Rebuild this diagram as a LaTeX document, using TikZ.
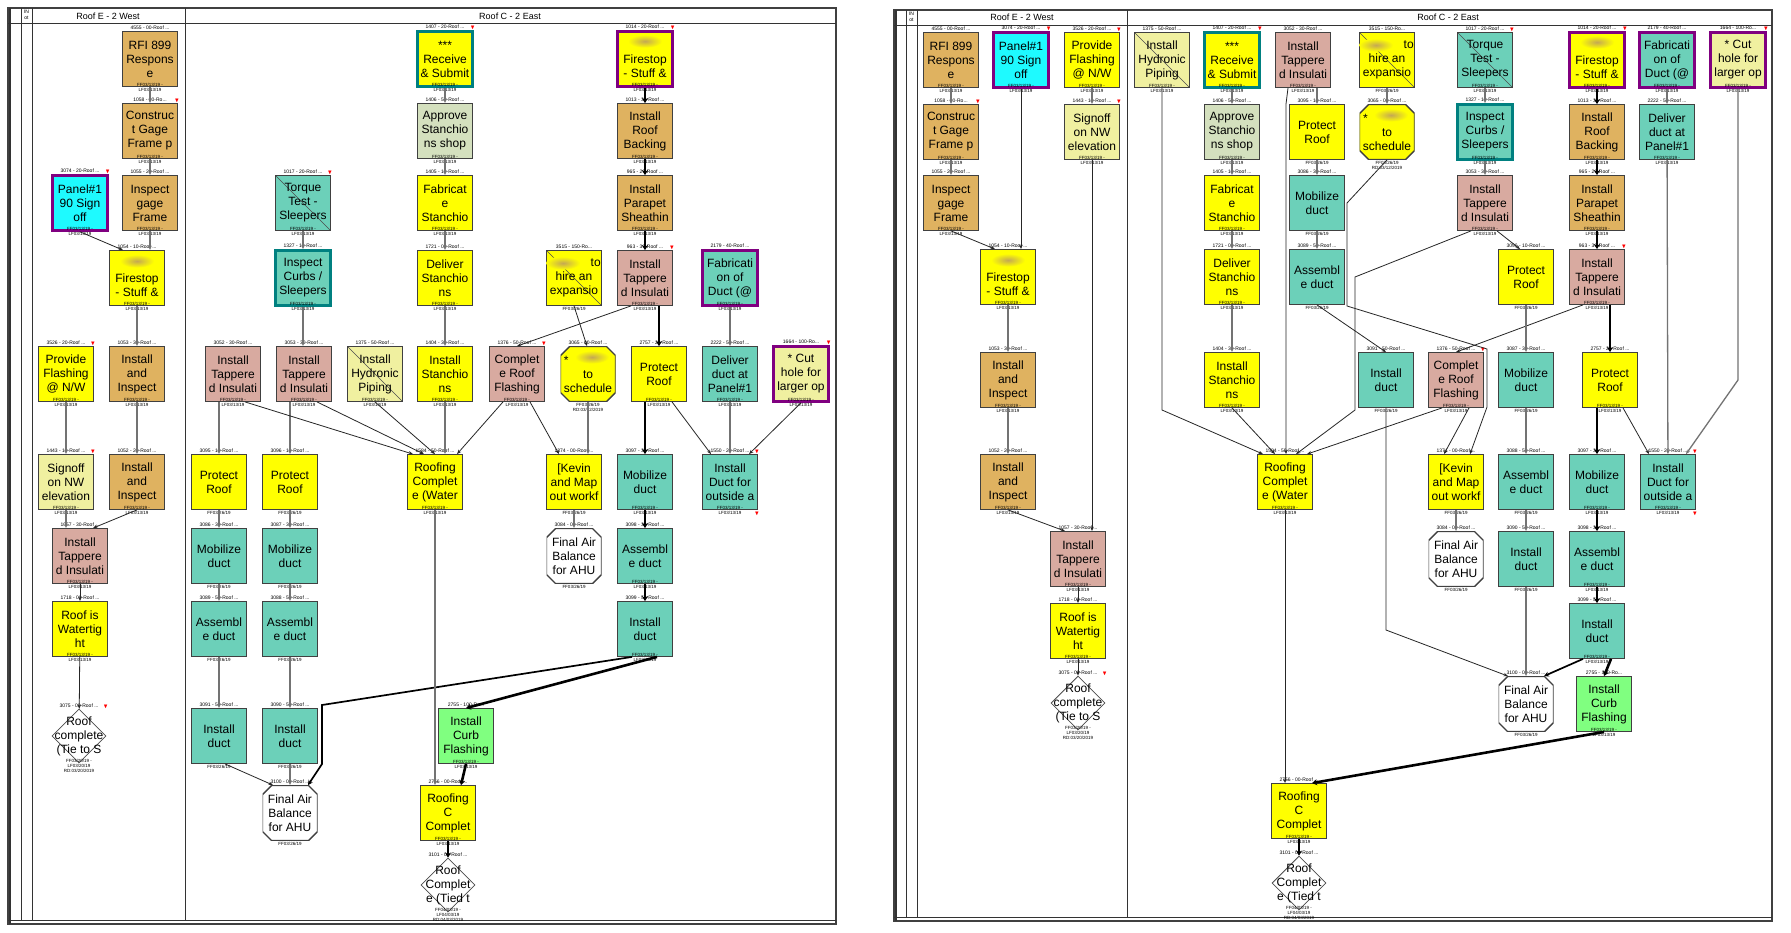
\documentclass[tikz,border=0pt]{standalone}
\usepackage{amssymb}
\usepackage{fontspec}
\setmainfont{Liberation Sans}
\usepackage{tikz}
\usetikzlibrary{shapes.geometric,arrows.meta}
\definecolor{tanc}{RGB}{223,178,96}
\definecolor{yelc}{RGB}{255,255,0}
\definecolor{aquac}{RGB}{108,208,185}
\definecolor{rosec}{RGB}{216,170,160}
\definecolor{palec}{RGB}{240,240,160}
\definecolor{sagec}{RGB}{212,224,190}
\definecolor{limec}{RGB}{128,255,128}
\definecolor{cyanc}{RGB}{30,250,255}
\definecolor{purc}{RGB}{128,0,128}
\definecolor{ringc}{RGB}{0,128,128}
\definecolor{smudc}{RGB}{196,168,84}
\tikzset{
 task/.style={rectangle,draw=black!75,line width=0.8pt,minimum width=55pt,
   minimum height=55pt,inner sep=0pt,align=center,font=\fontsize{12}{14}\selectfont},
 tanbox/.style={task,fill=tanc},
 yelbox/.style={task,fill=yelc},
 aquabox/.style={task,fill=aquac},
 rosebox/.style={task,fill=rosec},
 palebox/.style={task,fill=palec},
 sagebox/.style={task,fill=sagec},
 limebox/.style={task,fill=limec},
 cyanbox/.style={task,fill=cyanc},
 hilite/.style={draw=purc,line width=2.6pt},
 ringed/.style={draw=ringc,line width=2.6pt},
 done/.style={path picture={\draw[black!70,line width=0.6pt]
   (path picture bounding box.north west) -- (path picture bounding box.south east);}},
 octfill/.style={path picture={\filldraw[fill=#1,draw=black!75,line width=1.4pt]
   ([xshift=9pt]path picture bounding box.north west)
   -- ([xshift=-9pt]path picture bounding box.north east)
   -- ([yshift=-9pt]path picture bounding box.north east)
   -- ([yshift=9pt]path picture bounding box.south east)
   -- ([xshift=-9pt]path picture bounding box.south east)
   -- ([xshift=9pt]path picture bounding box.south west)
   -- ([yshift=9pt]path picture bounding box.south west)
   -- ([yshift=-9pt]path picture bounding box.north west) -- cycle;}},
 oct/.style={task,draw=none,fill=none,octfill=white},
 dia/.style={diamond,draw=black!70,line width=0.8pt,fill=white,minimum size=54pt,
   inner sep=0pt,aspect=1},
 dtxt/.style={label={[font=\fontsize{12}{14}\selectfont,align=center,inner sep=0pt]center:{#1}}},
 head/.style={font=\fontsize{5}{5}\selectfont,inner sep=1pt},
 foot/.style={font=\fontsize{4.5}{5}\selectfont,align=center,inner sep=0pt,anchor=center},
 hd/.style={label={[head]above:{#1}}},
 ft/.style={label={[foot]south:{#1}}},
 ft/.default={FF03/13/19 -\\LF03/13/19},
 ft1/.style={label={[foot,anchor=north,yshift=-1pt]south:{#1}}},
 ft1/.default={FF03/26/19},
 ft3/.style={label={[foot,anchor=north,yshift=4pt]south:{#1}}},
 flagtip/.style={text=red,font=\fontsize{6}{6}\selectfont,inner sep=0pt,anchor=center,
   xshift=-1pt,yshift=2pt},
 flag/.style={label={[flagtip]north east:$\blacktriangledown$}},
 flagb/.style={label={[flagtip,yshift=-6pt]south east:$\blacktriangledown$}},
 dflag/.style={label={[flagtip,xshift=14pt,yshift=14pt]north east:$\blacktriangledown$}},
 link/.style={->,draw=black!55,line width=1.3pt},
 fine/.style={->,draw=black!85,line width=0.8pt},
 semi/.style={-{Stealth[length=5pt,width=5pt]},draw=black,line width=1.7pt},
 crit/.style={-{Stealth[length=5pt,width=6pt]},draw=black,line width=2.6pt},
 frame/.style={draw=black!75,line width=2pt},
 rule/.style={draw=black!80,line width=0.9pt},
 lanehead/.style={font=\fontsize{9}{9}\selectfont,inner sep=0pt}}
\newcommand\smudge[1]{\shade[inner color=smudc,outer color=yelc] (#1) ellipse (17 and 6.5);}

\begin{document}
\begin{tikzpicture}[x=1pt,y=-1pt,>={Stealth[length=4.5pt,width=3.5pt]}]
\fill[white] (0,0) rectangle (1791,932);
\useasboundingbox (0,0) rectangle (1791,932);
% left sheet
\draw[frame] (8,8) rectangle (836,924);
\draw[rule] (8,920) -- (836,920) (21,8) -- (21,920) (32,8) -- (32,920)
  (185,8) -- (185,920) (8,23) -- (836,23);
\draw[black!80,line width=2.5pt] (10,8) -- (10,924);
\node[font=\fontsize{5}{5.5}\selectfont,align=center,inner sep=0pt] (Lin) at (26.5,15) {IN\\ot};
\node[lanehead] (Lwest) at (108,16) {Roof E - 2 West};
\node[lanehead] (Least) at (510,16) {Roof C - 2 East};

\node[tanbox,hd={4555 - 00-Roof ...},ft] (Lrfi) at (150,59) {RFI 899\\Respons\\e};
\node[tanbox,hd={1058 - 20-Ro...},ft,flag] (Lgage) at (150,131) {Construc\\t Gage\\Frame p};
\node[tanbox,hd={1055 - 20-Roof ...},ft] (Linsp) at (150,203) {Inspect\\gage\\Frame};
\node[cyanbox,hilite,hd={3074 - 20-Roof ...},ft,flag] (Lpanel) at (80,203) {Panel\#1\\90 Sign\\off};
\node[yelbox,hd={1054 - 10-Roof ...},ft] (Lfire) at (137,278) {\phantom{X}\\Firestop\\- Stuff \&};
\node[aquabox,done,hd={1017 - 20-Roof ...},ft,flag] (Ltorq) at (303,203) {Torque\\Test -\\Sleepers};
\node[aquabox,ringed,hd={1327 - 10-Roof ...},ft] (Lcurb) at (303,278) {Inspect\\Curbs /\\Sleepers};
\node[yelbox,ringed,hd={1407 - 20-Roof ...},ft,flag] (Lrecv) at (445,59) {***\\Receive\\\& Submit};
\node[sagebox,hd={1406 - 50-Roof ...},ft] (Lappr) at (445,131) {Approve\\Stanchio\\ns shop};
\node[yelbox,hd={1405 - 10-Roof ...},ft] (Lfab) at (445,203) {Fabricat\\e\\Stanchio};
\node[yelbox,hd={1721 - 00-Roof ...},ft] (Ldlv) at (445,278) {Deliver\\Stanchio\\ns};
\node[yelbox,hilite,hd={1014 - 20-Roof ...},ft,flag] (Lcfr) at (645,59) {\phantom{X}\\Firestop\\- Stuff \&};
\node[tanbox,hd={1013 - 30-Roof ...},ft] (Lback) at (645,131) {Install\\Roof\\Backing};
\node[tanbox,hd={965 - 20-Roof ...},ft] (Lpara) at (645,203) {Install\\Parapet\\Sheathin};
\node[rosebox,hd={963 - 30-Roof ...},ft,flag] (Ltap) at (645,278) {Install\\Tappere\\d Insulati};
\node[yelbox,done,hd={3515 - 150-Ro...},ft1] (Lhire) at (574,278) {\phantom{XXXXX} to\\hire an\\expansio};
\node[aquabox,hilite,hd={2179 - 40-Roof ...},ft] (Lfdu) at (730,278) {Fabricati\\on of\\Duct (@};

\node[yelbox,hd={3526 - 20-Roof ...},ft,flag] (Lprov) at (66,374) {Provide\\Flashing\\@ N/W};
\node[tanbox,hd={1053 - 30-Roof ...},ft] (Lii1) at (137,374) {Install\\and\\Inspect};
\node[rosebox,hd={3052 - 30-Roof ...},ft] (Ltap1) at (233,374) {Install\\Tappere\\d Insulati};
\node[rosebox,hd={3053 - 30-Roof ...},ft] (Ltap2) at (304,374) {Install\\Tappere\\d Insulati};
\node[palebox,done,hd={1375 - 50-Roof ...},ft] (Lhyd) at (375,374) {Install\\Hydronic\\Piping};
\node[yelbox,hd={1404 - 30-Roof ...},ft] (Lstan) at (445,374) {Install\\Stanchio\\ns};
\node[rosebox,hd={1376 - 50-Roof ...},ft,flag] (Lcrf) at (517,374) {Complet\\e Roof\\Flashing};
\node[oct,octfill=yelc,hd={3065 - 00-Roof ...},ft1={FF03/26/19\\RD:03/12/2019}] (Lsch) at (588,374) {* \phantom{XXXXX}\\to\\schedule};
\node[yelbox,hd={2757 - 20-Roof ...},ft] (Lprot) at (659,374) {Protect\\Roof};
\node[aquabox,hd={2222 - 50-Roof ...},ft] (Lddp) at (730,374) {Deliver\\duct at\\Panel\#1};
\node[palebox,hilite,hd={1664 - 100-Ro...},ft,flag] (Lcut) at (801,374) {* Cut\\hole for\\larger op};

\node[palebox,hd={1443 - 10-Roof ...},ft,flag] (Lsign) at (66,482) {Signoff\\on NW\\elevation};
\node[tanbox,hd={1052 - 20-Roof ...},ft] (Lii2) at (137,482) {Install\\and\\Inspect};
\node[yelbox,hd={3095 - 10-Roof ...},ft1] (Lpr1) at (219,482) {Protect\\Roof};
\node[yelbox,hd={3096 - 10-Roof ...},ft1] (Lpr2) at (290,482) {Protect\\Roof};
\node[yelbox,hd={1584 - 50-Roof ...},ft] (Lrcw) at (435,482) {Roofing\\Complet\\e (Water};
\node[yelbox,hd={1374 - 00-Roof ...},ft1] (Lkev) at (574,482) {[Kevin\\and Map\\out workf};
\node[aquabox,hd={3097 - 30-Roof ...},ft] (Lmob) at (645,482) {Mobilize\\duct};
\node[aquabox,hd={1550 - 20-Roof ...},ft,flag,flagb] (Lido) at (730,482) {Install\\Duct for\\outside a};

\node[rosebox,hd={1057 - 30-Roof ...},ft] (Ltapw) at (80,556) {Install\\Tappere\\d Insulati};
\node[aquabox,hd={3086 - 30-Roof ...},ft1] (Lmb1) at (219,556) {Mobilize\\duct};
\node[aquabox,hd={3087 - 30-Roof ...},ft1] (Lmb2) at (290,556) {Mobilize\\duct};
\node[oct,hd={3084 - 00-Roof ...},ft1] (Lfab1) at (574,556) {Final Air\\Balance\\for AHU};
\node[aquabox,hd={3098 - 30-Roof ...},ft] (Lasm) at (645,556) {Assembl\\e duct};

\node[yelbox,hd={1718 - 00-Roof ...},ft] (Lwat) at (80,629) {Roof is\\Watertig\\ht};
\node[aquabox,hd={3089 - 50-Roof ...},ft1] (Las1) at (219,629) {Assembl\\e duct};
\node[aquabox,hd={3088 - 50-Roof ...},ft1] (Las2) at (290,629) {Assembl\\e duct};
\node[aquabox,hd={3099 - 50-Roof ...},ft] (Lidu) at (645,629) {Install\\duct};

\node[dia,dtxt={Roof\\complete\\(Tie to S},hd={3075 - 00-Roof ...},
  ft3={FF03/20/19 -\\LF03/20/19\\RD:03/20/2019},dflag] (Ldia) at (79,736) {};
\node[aquabox,hd={3091 - 50-Roof ...},ft1] (Lid1) at (219,736) {Install\\duct};
\node[aquabox,hd={3090 - 50-Roof ...},ft1] (Lid2) at (290,736) {Install\\duct};
\node[limebox,hd={2755 - 100-Ro...},ft] (Lcrb) at (466,736) {Install\\Curb\\Flashing};
\node[oct,hd={3100 - 00-Roof ...},ft1] (Lfab2) at (290,813) {Final Air\\Balance\\for AHU};
\node[yelbox,hd={2756 - 00-Roof ...},ft] (Lrcc) at (448,813) {Roofing\\C\\Complet};
\node[dia,dtxt={Roof\\Complet\\e (Tied t},hd={3101 - 00-Roof ...},
  ft3={FF04/03/19 -\\LF04/03/19\\RD:04/03/2019}] (Ldia2) at (448,885) {};

\smudge{[yshift=-11pt]Lfire.north}
\smudge{[yshift=-11pt]Lcfr.north}
\smudge{[xshift=-11pt,yshift=-13pt]Lhire.north}
\smudge{[xshift=4pt,yshift=-11pt]Lsch.north}

\path (Lrfi) edge[link] (Lgage) (Lgage) edge[link] (Linsp);
\draw[link] (Linsp.south) -- (Linsp.south |- Lfire.north);
\draw[fine] (Lpanel.south) -- ([xshift=-14pt]Lfire.north);
\path (Lfire) edge[link] (Lii1) (Lii1) edge[link] (Lii2) (Lprov) edge[link] (Lsign);
\draw[link] (Lsign.south) -- (Lsign.south |- Ltapw.north);
\draw[fine] (Lii2.south) -- ([xshift=13pt]Ltapw.north);
\path (Ltapw) edge[fine] (Lwat) (Lwat) edge[fine] (Ldia);
\path (Ltorq) edge[link] (Lcurb);
\draw[link] (Lcurb.south) -- (Lcurb.south |- Ltap2.north);
\path (Lrecv) edge[link] (Lappr) (Lappr) edge[link] (Lfab) (Lfab) edge[link] (Ldlv)
  (Ldlv) edge[link] (Lstan);
\draw[link] (Lstan.south) -- (Lstan.south |- Lrcw.north);
\draw[link] (Lpr1.north |- Ltap1.south) -- (Lpr1.north);
\draw[link] (Lpr2.north |- Ltap2.south) -- (Lpr2.north);
\draw[fine] ([xshift=12pt]Ltap1.south) -- ([xshift=-22pt]Lrcw.north);
\draw[fine] ([xshift=13pt]Ltap2.south) -- ([xshift=-11pt]Lrcw.north);
\draw[fine] (Lhyd.south) -- (Lrcw.north);
\draw[fine] ([xshift=-14pt]Lcrf.south) -- ([xshift=22pt]Lrcw.north);
\draw[fine] ([xshift=-14pt]Ltap.south) -- (Lcrf.north);
\path (Lcfr) edge[crit] (Lback) (Lback) edge[crit] (Lpara) (Lpara) edge[crit] (Ltap);
\draw[crit] (Lprot.north |- Ltap.south) -- (Lprot.north);
\draw[fine] (Lhire.south) -- ([xshift=-1pt]Lsch.north);
\draw[link] (Lsch.south) -- (Lsch.south |- Lkev.north);
\draw[fine] ([xshift=13pt]Lcrf.south) -- ([xshift=-15pt]Lkev.north);
\draw[crit] (Lmob.north |- Lprot.south) -- (Lmob.north);
\draw[fine] ([xshift=13pt]Lprot.south) -- ([xshift=-19pt]Lido.north);
\path (Lfdu) edge[link] (Lddp) (Lddp) edge[link] (Lido);
\draw[fine] (Lcut.south) -- ([xshift=19pt]Lido.north);
\path (Lkev) edge[link] (Lfab1);
\path (Lmob) edge[crit] (Lasm) (Lasm) edge[crit] (Lidu);
\path (Lpr1) edge[link] (Lmb1) (Lmb1) edge[link] (Las1) (Las1) edge[link] (Lid1);
\path (Lpr2) edge[link] (Lmb2) (Lmb2) edge[link] (Las2) (Las2) edge[link] (Lid2)
  (Lid2) edge[link] (Lfab2);
\draw[fine] ([xshift=6pt]Lid1.south) -- ([xshift=-17pt]Lfab2.north);
\draw[semi] ([xshift=-13pt]Lidu.south) -- (322,705) -- (322,764) -- ([xshift=18pt]Lfab2.north);
\draw[crit] ([xshift=12pt]Lidu.south) -- (Lcrb.north);
\draw[crit] (Lcrb.south) -- ([xshift=13pt]Lrcc.north);
\draw[link] (Lrcw.south) -- (Lrcw.south |- Lrcc.north);
\path (Lrcc) edge[crit] (Ldia2);

% right sheet
\draw[frame] (894,10) rectangle (1772,921);
\draw[rule] (894,917) -- (1772,917) (906,10) -- (906,917) (917,10) -- (917,917)
  (1127,10) -- (1127,917) (894,25) -- (1772,25);
\draw[black!80,line width=2.5pt] (896,10) -- (896,921);
\node[font=\fontsize{5}{5.5}\selectfont,align=center,inner sep=0pt] (Rin) at (911.5,17) {IN\\ot};
\node[lanehead] (Rwest) at (1022,17) {Roof E - 2 West};
\node[lanehead] (Reast) at (1448,17) {Roof C - 2 East};

\node[tanbox,hd={4555 - 00-Roof ...},ft] (Rrfi) at (951,60) {RFI 899\\Respons\\e};
\node[tanbox,hd={1058 - 20-Ro...},ft,flag] (Rgage) at (951,132) {Construc\\t Gage\\Frame p};
\node[tanbox,hd={1055 - 20-Roof ...},ft] (Rinsp) at (951,203) {Inspect\\gage\\Frame};
\node[cyanbox,hilite,hd={3074 - 20-Roof ...},ft,flag] (Rpanel) at (1021,60) {Panel\#1\\90 Sign\\off};
\node[yelbox,hd={1054 - 10-Roof ...},ft] (Rfire) at (1008,277) {\phantom{X}\\Firestop\\- Stuff \&};
\node[yelbox,hd={3526 - 20-Roof ...},ft,flag] (Rprov) at (1092,60) {Provide\\Flashing\\@ N/W};
\node[palebox,hd={1443 - 10-Roof ...},ft,flag] (Rsign) at (1092,132) {Signoff\\on NW\\elevation};
\node[palebox,done,hd={1375 - 50-Roof ...},ft] (Rhyd) at (1162,60) {Install\\Hydronic\\Piping};
\node[yelbox,ringed,hd={1407 - 20-Roof ...},ft,flag] (Rrecv) at (1232,60) {***\\Receive\\\& Submit};
\node[sagebox,hd={1406 - 50-Roof ...},ft] (Rappr) at (1232,132) {Approve\\Stanchio\\ns shop};
\node[yelbox,hd={1405 - 10-Roof ...},ft] (Rfab) at (1232,203) {Fabricat\\e\\Stanchio};
\node[yelbox,hd={1721 - 00-Roof ...},ft] (Rdlv) at (1232,277) {Deliver\\Stanchio\\ns};
\node[rosebox,hd={3052 - 30-Roof ...},ft] (Rtap1) at (1303,60) {Install\\Tappere\\d Insulati};
\node[yelbox,hd={3095 - 10-Roof ...},ft1] (Rpr1) at (1317,132) {Protect\\Roof};
\node[aquabox,hd={3086 - 30-Roof ...},ft1] (Rmb1) at (1317,203) {Mobilize\\duct};
\node[aquabox,hd={3089 - 50-Roof ...},ft1] (Ras1) at (1317,277) {Assembl\\e duct};
\node[yelbox,done,hd={3515 - 150-Ro...},ft1] (Rhire) at (1387,60) {\phantom{XXXXX} to\\hire an\\expansio};
\node[oct,octfill=yelc,hd={3065 - 00-Roof ...},ft1={FF03/26/19\\RD:03/12/2019}] (Rsch) at (1387,132) {* \phantom{XXXXX}\\to\\schedule};
\node[aquabox,done,hd={1017 - 20-Roof ...},ft,flag] (Rtorq) at (1485,60) {Torque\\Test -\\Sleepers};
\node[aquabox,ringed,hd={1327 - 10-Roof ...},ft] (Rcurb) at (1485,132) {Inspect\\Curbs /\\Sleepers};
\node[rosebox,hd={3053 - 30-Roof ...},ft] (Rtap2) at (1485,203) {Install\\Tappere\\d Insulati};
\node[yelbox,hd={3096 - 10-Roof ...},ft1] (Rpr2) at (1526,277) {Protect\\Roof};
\node[yelbox,hilite,hd={1014 - 20-Roof ...},ft,flag] (Rcfr) at (1597,60) {\phantom{X}\\Firestop\\- Stuff \&};
\node[tanbox,hd={1013 - 30-Roof ...},ft] (Rback) at (1597,132) {Install\\Roof\\Backing};
\node[tanbox,hd={965 - 20-Roof ...},ft] (Rpara) at (1597,203) {Install\\Parapet\\Sheathin};
\node[rosebox,hd={963 - 30-Roof ...},ft,flag] (Rtap) at (1597,277) {Install\\Tappere\\d Insulati};
\node[aquabox,hilite,hd={2179 - 40-Roof ...},ft] (Rfdu) at (1667,60) {Fabricati\\on of\\Duct (@};
\node[aquabox,hd={2222 - 50-Roof ...},ft] (Rddp) at (1667,132) {Deliver\\duct at\\Panel\#1};
\node[palebox,hilite,hd={1664 - 100-Ro...},ft,flag] (Rcut) at (1738,60) {* Cut\\hole for\\larger op};

\node[tanbox,hd={1053 - 30-Roof ...},ft] (Rii1) at (1008,380) {Install\\and\\Inspect};
\node[yelbox,hd={1404 - 30-Roof ...},ft] (Rstan) at (1232,380) {Install\\Stanchio\\ns};
\node[aquabox,hd={3091 - 50-Roof ...},ft1] (Rid1) at (1386,380) {Install\\duct};
\node[rosebox,hd={1376 - 50-Roof ...},ft,flag] (Rcrf) at (1456,380) {Complet\\e Roof\\Flashing};
\node[aquabox,hd={3087 - 30-Roof ...},ft1] (Rmb2) at (1526,380) {Mobilize\\duct};
\node[yelbox,hd={2757 - 20-Roof ...},ft] (Rprot) at (1610,380) {Protect\\Roof};

\node[tanbox,hd={1052 - 20-Roof ...},ft] (Rii2) at (1008,482) {Install\\and\\Inspect};
\node[yelbox,hd={1584 - 50-Roof ...},ft] (Rrcw) at (1285,482) {Roofing\\Complet\\e (Water};
\node[yelbox,hd={1374 - 00-Roof ...},ft1] (Rkev) at (1456,482) {[Kevin\\and Map\\out workf};
\node[aquabox,hd={3088 - 50-Roof ...},ft1] (Ras2) at (1526,482) {Assembl\\e duct};
\node[aquabox,hd={3097 - 30-Roof ...},ft] (Rmob) at (1597,482) {Mobilize\\duct};
\node[aquabox,hd={1550 - 20-Roof ...},ft,flag,flagb] (Rido) at (1668,482) {Install\\Duct for\\outside a};

\node[rosebox,hd={1057 - 30-Roof ...},ft] (Rtapw) at (1078,559) {Install\\Tappere\\d Insulati};
\node[oct,hd={3084 - 00-Roof ...},ft1] (Rfab1) at (1456,559) {Final Air\\Balance\\for AHU};
\node[aquabox,hd={3090 - 50-Roof ...},ft1] (Rid2) at (1526,559) {Install\\duct};
\node[aquabox,hd={3098 - 30-Roof ...},ft] (Rasm) at (1597,559) {Assembl\\e duct};
\node[yelbox,hd={1718 - 00-Roof ...},ft] (Rwat) at (1078,631) {Roof is\\Watertig\\ht};
\node[aquabox,hd={3099 - 50-Roof ...},ft] (Ridu) at (1597,631) {Install\\duct};
\node[dia,dtxt={Roof\\complete\\(Tie to S},hd={3075 - 00-Roof ...},
  ft3={FF03/20/19 -\\LF03/20/19\\RD:03/20/2019},dflag] (Rdia) at (1078,703) {};
\node[oct,hd={3100 - 00-Roof ...},ft1] (Rfab2) at (1526,704) {Final Air\\Balance\\for AHU};
\node[limebox,hd={2755 - 100-Ro...},ft] (Rcrb) at (1604,704) {Install\\Curb\\Flashing};
\node[yelbox,hd={2756 - 00-Roof ...},ft] (Rrcc) at (1299,811) {Roofing\\C\\Complet};
\node[dia,dtxt={Roof\\Complet\\e (Tied t},hd={3101 - 00-Roof ...},
  ft3={FF04/03/19 -\\LF04/03/19\\RD:04/03/2019}] (Rdia2) at (1299,883) {};

\smudge{[yshift=-11pt]Rfire.north}
\smudge{[yshift=-11pt]Rcfr.north}
\smudge{[xshift=-11pt,yshift=-13pt]Rhire.north}
\smudge{[xshift=4pt,yshift=-11pt]Rsch.north}

\path (Rrfi) edge[link] (Rgage) (Rgage) edge[link] (Rinsp);
\draw[fine] (Rinsp.south) -- ([xshift=-13pt]Rfire.north);
\draw[fine] (Rpanel.south) -- (Rpanel.south |- Rfire.north);
\path (Rfire) edge[link] (Rii1) (Rii1) edge[link] (Rii2) (Rprov) edge[link] (Rsign);
\draw[fine] (Rii2.south) -- ([xshift=-13pt]Rtapw.north);
\draw[fine] (Rsign.south) -- (Rsign.south |- Rtapw.north);
\path (Rtapw) edge[fine] (Rwat) (Rwat) edge[fine] (Rdia);
\draw[fine] (Rhyd.south) -- (1162,410) -- ([xshift=-22pt]Rrcw.north);
\path (Rrecv) edge[link] (Rappr) (Rappr) edge[link] (Rfab) (Rfab) edge[link] (Rdlv)
  (Rdlv) edge[link] (Rstan);
\draw[fine] (Rstan.south) -- ([xshift=-10pt]Rrcw.north);
\draw[fine] ([xshift=-15pt]Rtap1.south) -- (1286,104) -- ([xshift=1pt]Rrcw.north);
\draw[link] (Rpr1.north |- Rtap1.south) -- (Rpr1.north);
\path (Rpr1) edge[link] (Rmb1) (Rmb1) edge[link] (Ras1);
\draw[fine] (Ras1.south) -- (Rid1.north);
\path (Rhire) edge[link] (Rsch);
\draw[fine] (Rsch.south) -- (1347,203) -- (1347,306) -- (1487,349) -- (1487,407)
  -- ([xshift=14pt]Rkev.north);
\path (Rtorq) edge[link] (Rcurb) (Rcurb) edge[link] (Rtap2);
\draw[fine] ([xshift=12pt]Rtap2.south) -- ([xshift=-6pt]Rpr2.north);
\draw[fine] ([xshift=-14pt]Rtap2.south) -- (1355,277) -- (1355,410) -- ([xshift=11pt]Rrcw.north);
\draw[fine] ([xshift=-14pt]Rcrf.south) -- ([xshift=22pt]Rrcw.north);
\draw[fine] ([xshift=-14pt]Rtap.south) -- (Rcrf.north);
\path (Rcfr) edge[crit] (Rback) (Rback) edge[crit] (Rpara) (Rpara) edge[crit] (Rtap);
\draw[crit] (Rprot.north |- Rtap.south) -- (Rprot.north);
\path (Rfdu) edge[link] (Rddp) (Rddp) edge[link] (Rido);
\draw[link] (Rcut.south) -- (1738,380) -- ([xshift=18pt]Rido.north);
\draw[crit] (Rmob.north |- Rprot.south) -- (Rmob.north);
\draw[fine] ([xshift=13pt]Rprot.south) -- ([xshift=-19pt]Rido.north);
\draw[fine] ([xshift=13pt]Rcrf.south) -- ([xshift=-12pt]Rkev.north);
\draw[fine] (Rid1.south) -- (1386,630) -- ([xshift=-18pt]Rfab2.north);
\path (Rpr2) edge[link] (Rmb2) (Rmb2) edge[link] (Ras2) (Ras2) edge[link] (Rid2)
  (Rid2) edge[link] (Rfab2);
\path (Rkev) edge[link] (Rfab1);
\path (Rmob) edge[crit] (Rasm) (Rasm) edge[crit] (Ridu);
\draw[semi] ([xshift=-14pt]Ridu.south) -- ([xshift=18pt]Rfab2.north);
\draw[crit] ([xshift=14pt]Ridu.south) -- (Rcrb.north);
\draw[crit] (Rcrb.south) -- ([xshift=13pt]Rrcc.north);
\draw[fine] (Rrcw.south) -- (Rrcw.south |- Rrcc.north);
\path (Rrcc) edge[crit] (Rdia2);
\end{tikzpicture}
\end{document}
